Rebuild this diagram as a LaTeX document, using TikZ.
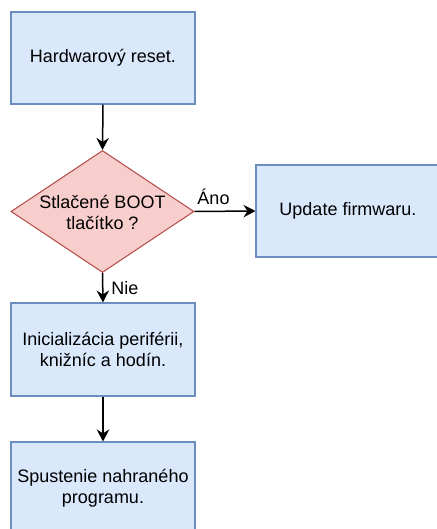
\documentclass[tikz,border=0pt]{standalone}
\usepackage{fontspec}
\setmainfont{Liberation Sans}
\usetikzlibrary{shapes.geometric,arrows.meta}
\definecolor{bluefill}{HTML}{DAE8FC}
\definecolor{bluedraw}{HTML}{6C8EBF}
\definecolor{redfill}{HTML}{F8CECC}
\definecolor{reddraw}{HTML}{B85450}
\tikzset{
  stepbox/.style={rectangle, draw=bluedraw, fill=bluefill, line width=1.1pt,
    minimum width=184pt, minimum height=92pt, inner sep=0pt, align=center,
    font=\fontsize{18pt}{21pt}\selectfont},
  decision/.style={diamond, draw=reddraw, fill=redfill, line width=1.1pt,
    minimum width=183pt, minimum height=122pt, inner sep=0pt},
  txt/.style={align=center, inner sep=0pt, font=\fontsize{18pt}{21pt}\selectfont},
  flow/.style={line width=1.5pt, -{Stealth[length=12pt,width=12.5pt,inset=4pt]}}
}
\begin{document}
\begin{tikzpicture}[x=1pt,y=-1pt]
\useasboundingbox (0,0) rectangle (436,529);
% process steps
\node[stepbox] (reset) at (103,58) {Hardwarový reset.};
\node[decision] (boot) at (102.5,211.5) {};
\node[txt] (boottext) at (102.5,212.5) {Stlačené BOOT\\tlačítko ?};
\node[stepbox] (update) at (348,211) {Update firmwaru.};
\node[stepbox, minimum height=93pt] (init) at (103,349.5) {Inicializácia periférii,\\knižníc a hodín.};
\node[stepbox] (run) at (103,488) {Spustenie nahraného\\programu.};
% connectors
\draw[flow] (reset.south) -- (boot.north);
\draw[flow] (boot.east) -- (update.west);
\draw[flow] (boot.south) -- (init.north);
\draw[flow] (init.south) -- (run.north);
% branch labels
\node[txt] (yes) at (213.5,197) {Áno};
\node[txt] (no) at (125,288) {Nie};
\end{tikzpicture}
\end{document}
